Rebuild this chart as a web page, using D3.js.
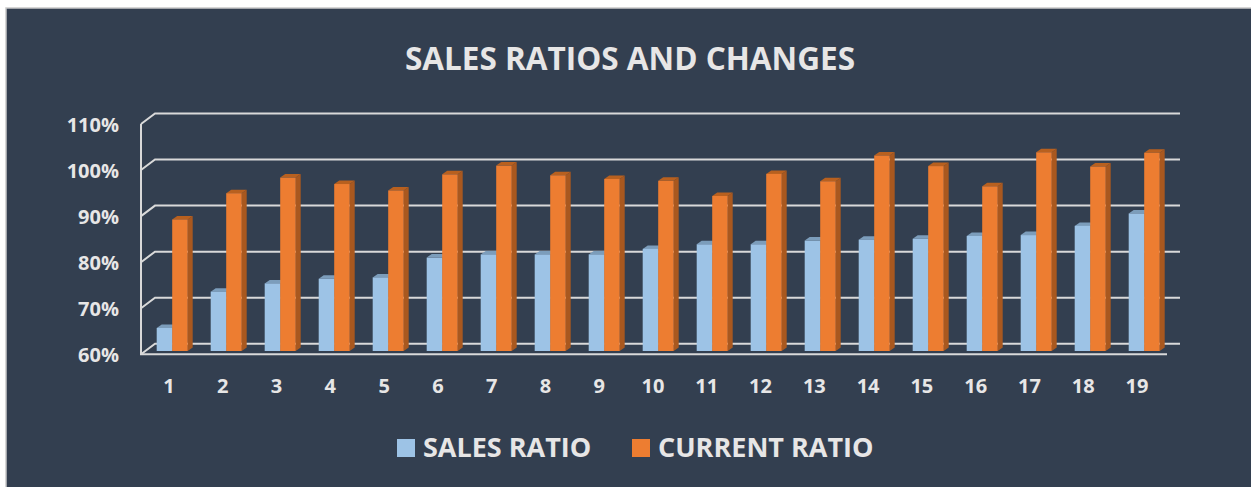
<!DOCTYPE html>
<html>
<head>
<meta charset="utf-8">
<script src="https://cdn.jsdelivr.net/npm/d3@7"></script>
<style>
  html, body { margin: 0; padding: 0; background: #fff; }
  svg { display: block; }
  text { font-family: "Open Sans", sans-serif; font-weight: 700; fill: #e7e6e6; }
</style>
</head>
<body>
<div id="chart"></div>
<script>
const categories = ["1","2","3","4","5","6","7","8","9","10","11","12","13","14","15","16","17","18","19"];
const salesRatio = [65, 72.9, 74.7, 75.7, 76, 80.3, 81, 81, 81, 82.2, 83.2, 83.2, 84, 84.2, 84.4, 85, 85.2, 87.2, 89.9];
const currentRatio = [88.6, 94.3, 97.7, 96.3, 94.9, 98.4, 100.3, 98.2, 97.4, 97, 93.7, 98.5, 96.9, 102.5, 100.2, 95.8, 103.2, 100.1, 103.1];
const yTicks = [60, 70, 80, 90, 100, 110];

const seriesList = [
  { name: "SALES RATIO", values: salesRatio, front: "#9dc3e6", top: "#7c9dbb", side: "#7394b2" },
  { name: "CURRENT RATIO", values: currentRatio, front: "#ed7d31", top: "#b8601f", side: "#a9581f" }
];

const width = 1251, height = 487;
const grid = "#d9d9d9";

const svg = d3.select("#chart").append("svg")
  .attr("width", width)
  .attr("height", height);

// Panel
svg.append("rect")
  .attr("x", 6).attr("y", 8)
  .attr("width", width - 5).attr("height", height - 7)
  .attr("fill", "#333f50")
  .attr("stroke", "#c9c9c9")
  .attr("stroke-width", 1.5);

svg.append("text")
  .attr("x", 630)
  .attr("y", 70)
  .attr("text-anchor", "middle")
  .style("font-size", "31.5px")
  .text("SALES RATIOS AND CHANGES");

// Depth of the 3D box
const depthX = 14, depthY = 10.5;

const x = d3.scaleBand().domain(categories).range([141, 1167]);
const xLabel = d3.scalePoint().domain(categories).range([169, 1137]);
const xBar = d3.scaleBand().domain(seriesList.map(s => s.name)).range([15.7, 46.7]);
const yFront = d3.scaleLinear().domain([60, 110]).range([354.3, 124]);
const yBar = d3.scaleLinear().domain([60, 110]).range([351, 121]);

// Gridlines on the back wall and the side wall
const gridG = svg.append("g")
  .attr("stroke", grid)
  .attr("stroke-width", 2)
  .attr("fill", "none");

yTicks.forEach(t => {
  const yf = yFront(t);
  gridG.append("path")
    .attr("d", `M${x.range()[0]},${yf}L${x.range()[0] + depthX},${yf - depthY}H${x.range()[1] + depthX - 1}`);
});

gridG.append("path")
  .attr("d", `M${x.range()[0]},${yFront(110)}V${yFront(60)}H${x.range()[1]}`);

// Bars, side and top faces first
const barDx = 5, barDy = 3.5;
const barW = xBar.bandwidth();

seriesList.forEach(s => {
  const g = svg.append("g");
  categories.forEach((c, i) => {
    const x0 = x(c) + xBar(s.name);
    const x1 = x0 + barW;
    const yTop = yBar(s.values[i]);
    const yBase = yBar(60);

    g.append("path")
      .attr("fill", s.side)
      .attr("d", `M${x1},${yTop}L${x1 + barDx},${yTop - barDy}V${yBase - barDy}L${x1},${yBase}Z`);

    g.append("path")
      .attr("fill", s.top)
      .attr("d", `M${x0},${yTop}L${x0 + barDx},${yTop - barDy}H${x1 + barDx}L${x1},${yTop}Z`);

    g.append("rect")
      .attr("x", x0)
      .attr("y", yTop)
      .attr("width", barW)
      .attr("height", yBase - yTop)
      .attr("fill", s.front);
  });
});

// Axis labels
svg.append("g").selectAll("text")
  .data(yTicks)
  .enter()
  .append("text")
  .attr("x", 119)
  .attr("y", d => yFront(d) + 8)
  .attr("text-anchor", "end")
  .style("font-size", "20px")
  .text(d => d + "%");

svg.append("g").selectAll("text")
  .data(categories)
  .enter()
  .append("text")
  .attr("x", d => xLabel(d))
  .attr("y", 393)
  .attr("text-anchor", "middle")
  .style("font-size", "20px")
  .text(d => d);

// Legend
const legendX = [397, 632];
seriesList.forEach((s, i) => {
  svg.append("rect")
    .attr("x", legendX[i]).attr("y", 439)
    .attr("width", 18).attr("height", 18)
    .attr("fill", s.front);
  svg.append("text")
    .attr("x", legendX[i] + 26)
    .attr("y", 457)
    .style("font-size", "27px")
    .text(s.name);
});
</script>
</body>
</html>
